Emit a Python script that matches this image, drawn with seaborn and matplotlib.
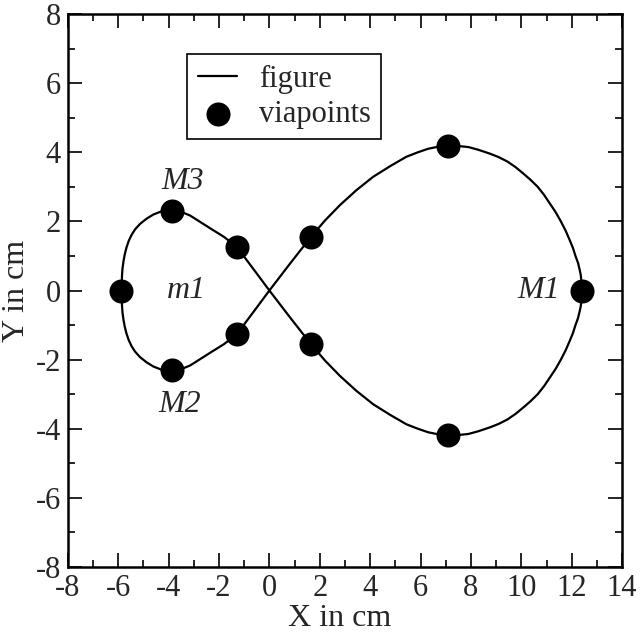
import matplotlib
matplotlib.use("Agg")
import matplotlib.pyplot as plt
import seaborn as sns
import pandas as pd

# curve points, upper half first (crossing -> right lobe -> M1)
right_top_x = [0.0, 0.8, 1.65, 2.2, 2.8, 3.45, 4.12, 4.8, 5.44, 5.9, 6.3, 6.7, 7.1, 7.5,
               7.9, 8.3, 8.75, 9.1, 9.45, 9.77, 10.07, 10.37, 10.65, 10.9, 11.13, 11.36,
               11.57, 11.76, 11.92, 12.05, 12.15, 12.25, 12.32, 12.36, 12.38, 12.4]
right_top_y = [0.0, 0.76, 1.55, 2.02, 2.47, 2.9, 3.29, 3.6, 3.87, 4.0, 4.1, 4.16, 4.19, 4.18,
               4.15, 4.07, 3.96, 3.86, 3.73, 3.57, 3.39, 3.2, 3.0, 2.77, 2.52, 2.27,
               2.0, 1.73, 1.46, 1.23, 1.0, 0.8, 0.59, 0.45, 0.3, 0.0]
# left lobe upper half (crossing -> M3 -> m1)
left_top_x = [0.0, -0.51, -0.9, -1.3, -1.8, -2.35, -2.76, -3.15, -3.55, -3.88, -4.25,
              -4.6, -4.87, -5.13, -5.33, -5.47, -5.58, -5.67, -5.74, -5.79, -5.83,
              -5.85, -5.86, -5.87]
left_top_y = [0.0, 0.5, 0.88, 1.27, 1.55, 1.8, 1.99, 2.17, 2.29, 2.33, 2.3,
              2.2, 2.08, 1.93, 1.77, 1.61, 1.44, 1.25, 1.05, 0.85, 0.64,
              0.43, 0.22, 0.0]
# lower halves, read as mirror images of the upper ones
right_bot_y = [-v for v in right_top_y]
left_bot_y = [-v for v in left_top_y]

curve_x = right_top_x + right_top_x[::-1][1:] + left_top_x[1:] + left_top_x[::-1][1:]
curve_y = right_top_y + right_bot_y[::-1][1:] + left_top_y[1:] + left_bot_y[::-1][1:]

# viapoints
via_x = [-5.9, -3.88, -3.88, -1.3, -1.3, 1.65, 1.65, 7.1, 7.1, 12.4]
via_y = [0.0, 2.3, -2.3, 1.27, -1.27, 1.55, -1.55, 4.17, -4.17, 0.0]

# point labels
label_text = ["M3", "m1", "M2", "M1"]
label_x = [-3.45, -3.3, -3.55, 10.7]
label_y = [3.15, 0.0, -3.3, 0.0]

sns.set_theme(style="ticks")
plt.rcParams["font.family"] = ["Liberation Serif", "DejaVu Serif"]
plt.rcParams["axes.unicode_minus"] = False

curve = pd.DataFrame({"x": curve_x, "y": curve_y})
via = pd.DataFrame({"x": via_x, "y": via_y})

fig = plt.figure(figsize=(6.4, 6.35), dpi=100)
ax = fig.add_axes([0.106, 0.107, 0.866, 0.871])

sns.lineplot(data=curve, x="x", y="y", sort=False, estimator=None, color="black",
             linewidth=1.6, ax=ax, label="figure")
sns.scatterplot(data=via, x="x", y="y", color="black", s=300, edgecolor="black",
                linewidth=0, ax=ax, label="viapoints", zorder=3)

for t, lx, ly in zip(label_text, label_x, label_y):
    ax.text(lx, ly, t, fontsize=23, style="italic", ha="center", va="center")

ax.set_xlim(-8, 14)
ax.set_ylim(-8, 8)
ax.set_xticks(range(-8, 15, 2))
ax.set_yticks(range(-8, 9, 2))
ax.set_xticks(range(-7, 14, 2), minor=True)
ax.set_yticks(range(-7, 8, 2), minor=True)
ax.tick_params(which="both", direction="in", top=True, right=True, color="black",
               labelsize=22, width=1.2)
ax.tick_params(which="major", length=10, pad=5)
ax.tick_params(which="minor", length=5)
for s in ax.spines.values():
    s.set_linewidth(1.8)
    s.set_color("black")

ax.set_xlabel("X in cm", fontsize=23)
ax.set_ylabel("Y in cm", fontsize=23)
ax.xaxis.set_label_coords(0.49, -0.066)
ax.yaxis.set_label_coords(-0.066, 0.5)

leg = ax.legend(loc="upper left", bbox_to_anchor=(0.215, 0.928), borderaxespad=0,
                fontsize=22, fancybox=False, framealpha=1, edgecolor="black",
                handlelength=1.3, handletextpad=0.7, borderpad=0.35, labelspacing=0.2)
leg.get_frame().set_linewidth(1.2)

fig.savefig("out.png", dpi=100)
